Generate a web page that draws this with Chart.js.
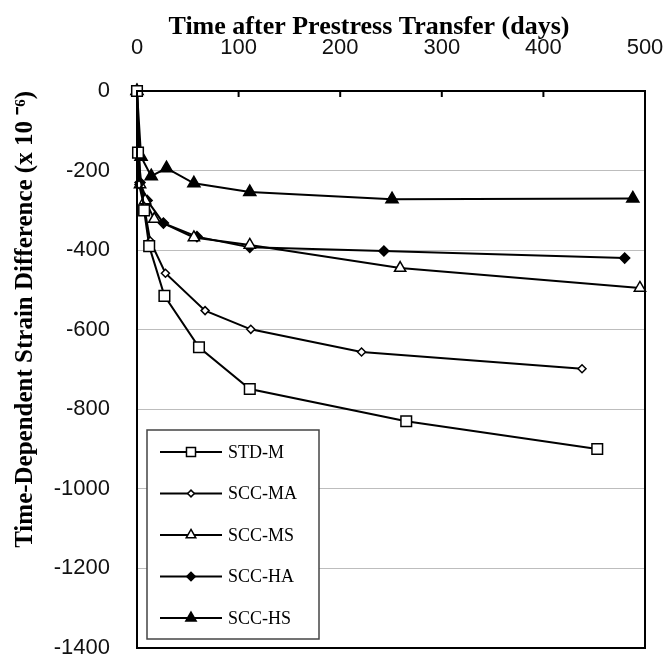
<!DOCTYPE html>
<html>
<head>
<meta charset="utf-8">
<script src="https://cdn.jsdelivr.net/npm/chart.js@4.4.1/dist/chart.umd.min.js"></script>
<style>
  body { margin: 0; background: #fff; }
  #wrap { width: 668px; height: 664px; }
</style>
</head>
<body>
<div id="wrap"><canvas id="chart" width="668" height="664"></canvas></div>
<script>
// time after transfer (days) and strain difference (x 10^-6) for each mix
const seriesNames = ['STD-M', 'SCC-MA', 'SCC-MS', 'SCC-HA', 'SCC-HS'];

const stdM_days   = [0, 1, 7, 12, 27, 61, 111, 265, 453];
const stdM_strain = [0, -155, -300, -390, -515, -644, -749, -830, -900];

const sccMA_days   = [0, 2, 7, 13, 28, 67, 112, 221, 438];
const sccMA_strain = [0, -235, -290, -377, -458, -552, -599, -656, -698];

const sccMS_days   = [0, 3, 8, 17, 56, 111, 259, 495];
const sccMS_strain = [0, -235, -275, -322, -368, -387, -445, -495];

const sccHA_days   = [0, 3, 10, 26, 59, 111, 243, 480];
const sccHA_strain = [0, -230, -275, -332, -366, -393, -402, -420];

const sccHS_days   = [0, 4, 14, 29, 56, 111, 251, 488];
const sccHS_strain = [0, -165, -214, -194, -232, -254, -272, -270];

const xTicks = [0, 100, 200, 300, 400, 500];
const yTicks = [0, -200, -400, -600, -800, -1000, -1200, -1400];

const toPoints = (xs, ys) => xs.map((x, i) => ({ x: x, y: ys[i] }));

const markers = [
  { style: 'rect',    radius: 7.5, fill: '#fff' },
  { style: 'rectRot', radius: 4,   fill: '#fff' },
  { style: 'triangle',radius: 6.5, fill: '#fff' },
  { style: 'rectRot', radius: 5,   fill: '#000' },
  { style: 'triangle',radius: 7,   fill: '#000' },
];

const allData = [
  toPoints(stdM_days, stdM_strain),
  toPoints(sccMA_days, sccMA_strain),
  toPoints(sccMS_days, sccMS_strain),
  toPoints(sccHA_days, sccHA_strain),
  toPoints(sccHS_days, sccHS_strain),
];

const datasets = seriesNames.map((name, i) => ({
  label: name,
  data: allData[i],
  borderColor: '#000',
  borderWidth: 2,
  pointStyle: markers[i].style,
  pointRadius: markers[i].radius,
  pointBackgroundColor: markers[i].fill,
  pointBorderColor: '#000',
  pointBorderWidth: 1.5,
  clip: false,
  tension: 0,
}));

// frame, inward top ticks, x title and the boxed legend
const decorations = {
  id: 'decorations',
  afterDraw(chart) {
    const ctx = chart.ctx;
    const a = chart.chartArea;
    const xs = chart.scales.x;
    ctx.save();
    ctx.strokeStyle = '#000';
    ctx.lineWidth = 2;
    ctx.strokeRect(a.left, a.top, a.right - a.left, a.bottom - a.top);
    xTicks.forEach(v => {
      const px = xs.getPixelForValue(v);
      ctx.beginPath();
      ctx.moveTo(px, a.top);
      ctx.lineTo(px, a.top + 6);
      ctx.stroke();
    });

    ctx.fillStyle = '#000';
    ctx.font = 'bold 26px "Liberation Serif"';
    ctx.textAlign = 'center';
    ctx.textBaseline = 'alphabetic';
    ctx.fillText('Time after Prestress Transfer (days)', 369, 34);

    // legend
    const bx = 147, by = 430, bw = 172, bh = 209;
    ctx.fillStyle = '#fff';
    ctx.fillRect(bx, by, bw, bh);
    ctx.strokeStyle = '#444';
    ctx.lineWidth = 1.5;
    ctx.strokeRect(bx, by, bw, bh);
    ctx.font = '18px "Liberation Serif"';
    ctx.textAlign = 'left';
    ctx.textBaseline = 'middle';
    chart.data.datasets.forEach((ds, i) => {
      const y = 452 + i * 41.5;
      ctx.strokeStyle = '#000';
      ctx.lineWidth = 2;
      ctx.beginPath();
      ctx.moveTo(160, y);
      ctx.lineTo(222, y);
      ctx.stroke();
      ctx.fillStyle = ds.pointBackgroundColor;
      ctx.strokeStyle = '#000';
      ctx.lineWidth = 1.5;
      Chart.helpers.drawPoint(ctx, {
        pointStyle: ds.pointStyle,
        radius: ds.pointRadius * 0.85,
        rotation: 0,
        borderWidth: 1.5,
      }, 191, y);
      ctx.fillStyle = '#000';
      ctx.fillText(ds.label, 228, y + 1);
    });
    ctx.restore();
  }
};

new Chart(document.getElementById('chart'), {
  type: 'line',
  data: { datasets: datasets },
  options: {
    responsive: false,
    animation: false,
    layout: { padding: { left: 0, right: 23, top: 0, bottom: 16 } },
    plugins: {
      legend: { display: false },
      tooltip: { enabled: false },
    },
    scales: {
      x: {
        type: 'linear',
        position: 'top',
        min: 0,
        max: 500,
        afterFit(scale) {
          scale.height = 91;
          scale.paddingLeft = 0;
          scale.paddingRight = 0;
        },
        afterBuildTicks(scale) { scale.ticks = xTicks.map(v => ({ value: v })); },
        grid: { display: false, drawTicks: false },
        border: { display: false },
        ticks: {
          color: '#111',
          padding: 30,
          maxRotation: 0,
          font: { family: 'Liberation Sans', size: 22 },
          callback: v => String(v),
        },
      },
      y: {
        type: 'linear',
        min: -1400,
        max: 0,
        afterFit(scale) {
          scale.width = 137;
          scale.paddingTop = 0;
          scale.paddingBottom = 0;
        },
        afterBuildTicks(scale) { scale.ticks = yTicks.map(v => ({ value: v })); },
        grid: { color: '#bdbdbd', lineWidth: 1, drawTicks: false },
        border: { display: false },
        ticks: {
          color: '#111',
          padding: 27,
          font: { family: 'Liberation Sans', size: 22 },
          callback: v => String(v),
        },
        title: {
          display: true,
          text: 'Time-Dependent Strain Difference (x 10 \u207B\u2076)',
          align: 'end',
          color: '#000',
          padding: { top: 11, bottom: 0 },
          font: { family: 'Liberation Serif', size: 25, weight: 'bold' },
        },
      },
    },
  },
  plugins: [decorations],
});
</script>
</body>
</html>
